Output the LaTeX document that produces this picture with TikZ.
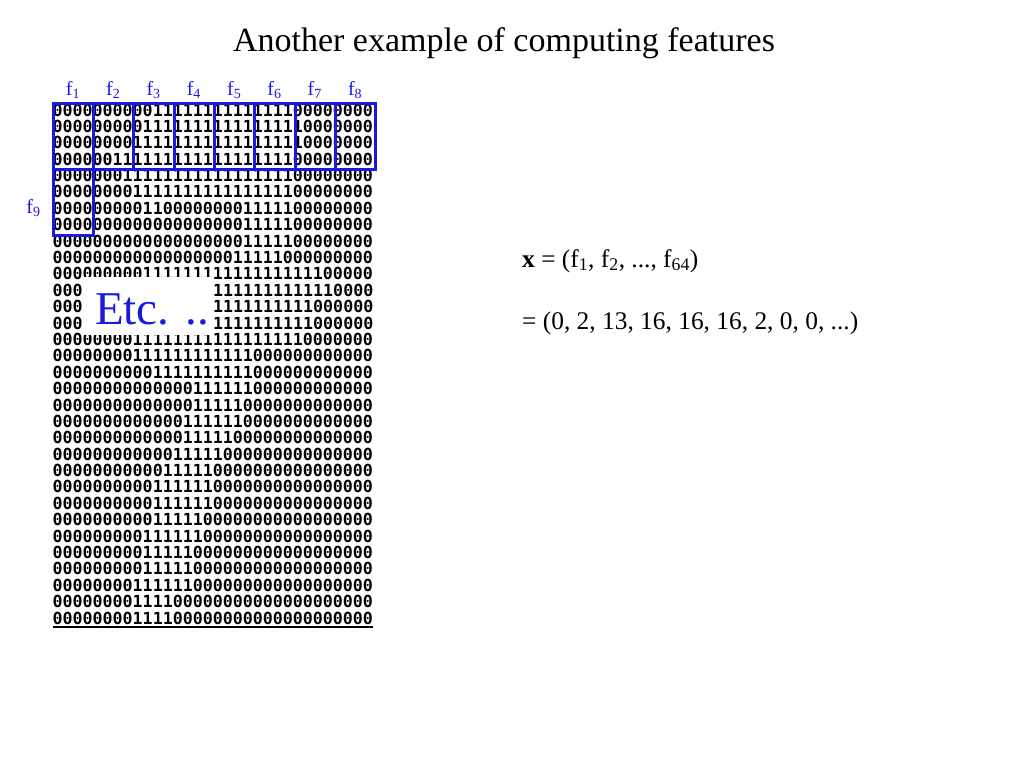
\documentclass[tikz,border=0pt]{standalone}
\usepackage{fontspec}
\setmainfont{Liberation Serif}
\newfontfamily\bitfont{DejaVu Sans Mono}
\definecolor{fblue}{RGB}{25,25,225}
\begin{document}
\begin{tikzpicture}[x=1pt,y=-1pt,
  bit/.style={inner sep=0pt, anchor=base west, font=\bitfont\bfseries\fontsize{16.62}{16.62}\selectfont, text=black},
  fbox/.style={draw=fblue, line width=3pt, inner sep=0pt, minimum width=40.3pt, minimum height=66.2pt, anchor=north west},
  flabel/.style={inner sep=0pt, anchor=base, text=fblue, font=\fontsize{20}{20}\selectfont},
  title/.style={inner sep=0pt, anchor=base, font=\fontsize{34}{34}\selectfont},
  eq/.style={inner sep=0pt, anchor=base west, font=\fontsize{25.4}{25.4}\selectfont},
  etcbg/.style={fill=white, draw=none, inner sep=0pt, minimum width=129pt, minimum height=58pt, anchor=north west},
  etctext/.style={inner sep=0pt, anchor=base west, text=fblue, font=\fontsize{47}{47}\selectfont}]
\useasboundingbox (0,0) rectangle (1024,768);
\fill[white] (0,0) rectangle (1024,768);

\node[title] (title) at (504,52) {Another example of computing features};

\foreach \r [count=\i] in {
00000000001111111111111100000000,
00000000011111111111111110000000,
00000000111111111111111110000000,
00000011111111111111111100000000,
00000001111111111111111100000000,
00000000111111111111111100000000,
00000000011000000001111100000000,
00000000000000000001111100000000,
00000000000000000001111100000000,
00000000000000000011111000000000,
00000000011111111111111111100000}
{
  \node[bit] (row\i) at (52.5,{116+(\i-1)*16.39}) {\r};
}
% rows 12-14: only the parts that the Etc. box leaves visible
\foreach \r/\i in {1111111111110000/12, 1111111111000000/13, 1111111111000000/14}{
  \node[bit] (row\i a) at (52.5,{116+(\i-1)*16.39}) {000};
  \node[bit] (row\i b) at ({52.5+16*10.03},{116+(\i-1)*16.39}) {\r};
}
\foreach \r [count=\j from 15] in {
00000000111111111111111110000000,
00000000111111111111000000000000,
00000000001111111111000000000000,
00000000000000111111000000000000,
00000000000000111110000000000000,
00000000000001111110000000000000,
00000000000001111100000000000000,
00000000000011111000000000000000,
00000000000111110000000000000000,
00000000001111110000000000000000,
00000000001111110000000000000000,
00000000001111100000000000000000,
00000000011111100000000000000000,
00000000011111000000000000000000,
00000000011111000000000000000000,
00000000111111000000000000000000,
00000000111100000000000000000000,
00000000111100000000000000000000}
{
  \node[bit] (row\j) at (52.5,{116+(\j-1)*16.39}) {\r};
}
\draw[line width=1.8pt] ([yshift=-3pt]row32.base west) -- ([yshift=-3pt]row32.base east);

\foreach \k in {1,...,8}{
  \node[fbox] (b\k) at ({51.7+40.3*(\k-1)},101.5) {};
  \node[flabel] (f\k) at ({73+40.3*(\k-1)},95) {f\textsubscript{\k}};
}
\node[fbox] (b9) at (51.7,167.7) {};
\node[flabel] (f9) at (33.5,213) {f\textsubscript{9}};

\node[etcbg] (etcbox) at (84,277) {};
\node[etctext] (etc) at (95,324) {Etc. ..};

\node[eq] (xdef) at (522,267) {\textbf{x} = (f\textsubscript{1}, f\textsubscript{2}, ..., f\textsubscript{64})};
\node[eq] (xval) at (522,329) {= (0, 2, 13, 16, 16, 16, 2, 0, 0, ...)};
\end{tikzpicture}
\end{document}
